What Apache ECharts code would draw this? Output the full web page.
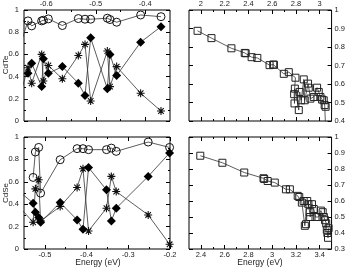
<!DOCTYPE html>
<html><head><meta charset="utf-8">
<script src="https://cdn.jsdelivr.net/npm/echarts@6/dist/echarts.min.js"></script>
<style>html,body{margin:0;padding:0;background:#fff}#c{width:348px;height:269px}</style>
</head><body><div id="c"></div>
<script>
// ---- Data: top-left (CdTe) ----
const tlEnergy  = [-0.655, -0.6369, -0.6295, -0.6093, -0.6059, -0.5958, -0.5675, -0.5352, -0.5217, -0.5103, -0.4766, -0.4712, -0.4578, -0.4093, -0.3682];
const tlCircle  = [0.65, 0.902, 0.857, 0.902, 0.908, 0.920, 0.860, 0.923, 0.917, 0.917, 0.926, 0.914, 0.890, 0.955, 0.940];
const tlDiamond = [null, 0.43, 0.52, 0.31, 0.56, 0.43, 0.49, 0.34, 0.23, 0.75, 0.29, 0.60, 0.41, 0.71, 0.85];
const tlStar    = [0.2, 0.48, 0.34, 0.60, 0.36, 0.50, 0.38, 0.59, 0.69, 0.18, 0.63, 0.31, 0.49, 0.25, 0.09];
// ---- Data: bottom-left (CdSe) ----
const blEnergy  = [-0.56, -0.5281, -0.5227, -0.5148, -0.5102, -0.4633, -0.4227, -0.4086, -0.3953, -0.3523, -0.3406, -0.3289, -0.2523, -0.201];
const blCircle  = [null, 0.639, 0.866, 0.907, 0.499, 0.797, 0.896, 0.896, 0.887, 0.887, 0.901, 0.872, 0.955, 0.907];
const blDiamond = [0.51, 0.409, 0.328, 0.281, 0.239, 0.415, 0.260, 0.176, 0.728, 0.528, 0.251, 0.364, 0.648, 0.857];
const blStar    = [0.37, 0.239, 0.537, 0.618, 0.251, 0.379, 0.549, 0.716, 0.161, 0.364, 0.648, 0.513, 0.304, 0.042];
// ---- Data: top-right (CdTe) ----
const trEnergy = [1.972, 2.089, 2.257, 2.369, 2.377, 2.427, 2.475, 2.578, 2.609, 2.615, 2.698, 2.740, 2.796, 2.785, 2.788, 2.791, 2.824, 2.832, 2.844, 2.866, 2.874, 2.902, 2.908, 2.922, 2.950, 2.978, 2.992, 3.006, 3.020, 3.034, 3.042, 3.050, 3.052];
const trSquare = [0.8875, 0.848, 0.793, 0.768, 0.766, 0.745, 0.741, 0.702, 0.705, 0.704, 0.655, 0.664, 0.634, 0.545, 0.495, 0.575, 0.459, 0.557, 0.512, 0.625, 0.512, 0.602, 0.580, 0.521, 0.530, 0.580, 0.557, 0.530, 0.516, 0.512, 0.486, 0.477, 0.33];
// ---- Data: bottom-right (CdSe) ----
const brEnergy = [2.395, 2.581, 2.765, 2.927, 2.933, 2.962, 3.022, 3.116, 3.149, 3.215, 3.228, 3.25, 3.265, 3.275, 3.285, 3.295, 3.305, 3.315, 3.32, 3.335, 3.35, 3.365, 3.39, 3.41, 3.425, 3.435, 3.445, 3.455, 3.46, 3.465, 3.47, 3.475];
const brSquare = [0.883, 0.839, 0.778, 0.742, 0.738, 0.725, 0.715, 0.673, 0.673, 0.632, 0.625, 0.59, 0.60, 0.445, 0.455, 0.60, 0.58, 0.53, 0.50, 0.58, 0.55, 0.50, 0.50, 0.54, 0.53, 0.50, 0.48, 0.46, 0.42, 0.40, 0.37, 0.43];
// ---- Tick labels ----
const tlXMajor = [-0.6, -0.5, -0.4];
const tlXMinor = [-0.55, -0.45];
const leftYMajor = [0, 0.2, 0.4, 0.6, 0.8, 1];
const leftYMinor = [0.1, 0.3, 0.5, 0.7, 0.9];
const blXMajor = [-0.5, -0.4, -0.3, -0.2];
const blXMinor = [-0.45, -0.35, -0.25];
const trXMajor = [2, 2.2, 2.4, 2.6, 2.8, 3];
const trXMinor = [2.1, 2.3, 2.5, 2.7, 2.9];
const trYMajor = [0.4, 0.5, 0.6, 0.7, 0.8, 0.9, 1];
const brXMajor = [2.4, 2.6, 2.8, 3, 3.2, 3.4];
const brXMinor = [2.5, 2.7, 2.9, 3.1, 3.3];
const brYMajor = [0.3, 0.4, 0.5, 0.6, 0.7, 0.8, 0.9, 1];
const rowLabels = ['CdTe', 'CdSe'];
const xTitle = 'Energy (eV)';

const FONT = 'Liberation Sans';
const grids = [
  {left: 24, top: 9, width: 146, height: 112},
  {left: 189, top: 9, width: 143, height: 112},
  {left: 24, top: 137, width: 146, height: 112},
  {left: 189, top: 137, width: 143, height: 112}
].map(g => Object.assign(g, {show: true, borderColor: '#000', borderWidth: 1, backgroundColor: 'transparent'}));

const xAxes = [], yAxes = [];
function addAxes(list, sides, g, min, max, major, minor, labelSide) {
  let first = -1;
  sides.forEach(side => {
    const idx = list.length;
    if (first < 0) first = idx;
    list.push({
      type: 'value', gridIndex: g, position: side, min: min, max: max, offset: 0,
      axisLine: {show: false, onZero: false}, splitLine: {show: false},
      axisTick: {show: true, inside: true, length: 4, customValues: major, lineStyle: {color: '#000', width: 1}},
      axisLabel: {show: side === labelSide, customValues: major, fontSize: 7.5, color: '#222', fontFamily: FONT,
                  margin: (side === 'left') ? 5 : (side === 'right' ? 3 : 2)}
    });
    if (minor && minor.length) {
      list.push({
        type: 'value', gridIndex: g, position: side, min: min, max: max, offset: 0,
        axisLine: {show: false, onZero: false}, splitLine: {show: false},
        axisTick: {show: true, inside: true, length: 2, customValues: minor, lineStyle: {color: '#000', width: 1}},
        axisLabel: {show: false}
      });
    }
  });
  return first;
}
const X = ['top', 'bottom'], Y = ['left', 'right'];
const ax = [
  [addAxes(xAxes, X, 0, -0.645, -0.35, tlXMajor, tlXMinor, 'top'), addAxes(yAxes, Y, 0, 0, 1, leftYMajor, leftYMinor, 'left')],
  [addAxes(xAxes, X, 1, 1.9, 3.1, trXMajor, trXMinor, 'top'), addAxes(yAxes, Y, 1, 0.4, 1, trYMajor, null, 'right')],
  [addAxes(xAxes, X, 2, -0.55, -0.2, blXMajor, blXMinor, 'bottom'), addAxes(yAxes, Y, 2, 0, 1, leftYMajor, leftYMinor, 'left')],
  [addAxes(xAxes, X, 3, 2.3, 3.5, brXMajor, brXMinor, 'bottom'), addAxes(yAxes, Y, 3, 0.3, 1, brYMajor, null, 'right')]
];

const zip = (xs, ys) => xs.map((x, i) => [x, ys[i]]);
const STAR = 'path://M10,0 L10,20 M0,10 L20,10 M3,3 L17,17 M3,17 L17,3';
const lineStyle = {color: '#333', width: 0.8};
function mk(panel, xs, ys, kind) {
  const s = {
    type: 'line', xAxisIndex: ax[panel][0], yAxisIndex: ax[panel][1],
    data: zip(xs, ys), lineStyle: lineStyle, clip: true, connectNulls: false,
    showAllSymbol: true, animation: false, silent: true
  };
  if (kind === 'circle') { s.symbol = 'circle'; s.symbolSize = 8; s.itemStyle = {color: 'rgba(0,0,0,0)', borderColor: '#111', borderWidth: 1}; }
  if (kind === 'diamond') { s.symbol = 'diamond'; s.symbolSize = 9; s.itemStyle = {color: '#000', borderColor: '#000', borderWidth: 0}; }
  if (kind === 'star') { s.symbol = STAR; s.symbolSize = 8; s.itemStyle = {color: 'rgba(0,0,0,0)', borderColor: '#111', borderWidth: 1.1}; }
  if (kind === 'square') { s.symbol = 'rect'; s.symbolSize = 7; s.itemStyle = {color: 'rgba(0,0,0,0)', borderColor: '#222', borderWidth: 1}; }
  return s;
}
const series = [
  mk(0, tlEnergy, tlCircle, 'circle'), mk(0, tlEnergy, tlStar, 'star'), mk(0, tlEnergy, tlDiamond, 'diamond'),
  mk(1, trEnergy, trSquare, 'square'),
  mk(2, blEnergy, blCircle, 'circle'), mk(2, blEnergy, blStar, 'star'), mk(2, blEnergy, blDiamond, 'diamond'),
  mk(3, brEnergy, brSquare, 'square')
];

const txt = (x, y, t, rot, size) => ({type: 'text', x: x, y: y, rotation: rot || 0, silent: true,
  style: {text: t, fill: '#222', font: size + 'px "' + FONT + '"', textAlign: 'center', textVerticalAlign: 'middle'}});

const chart = echarts.init(document.getElementById('c'), null, {renderer: 'canvas'});
chart.setOption({
  animation: false,
  grid: grids, xAxis: xAxes, yAxis: yAxes, series: series,
  graphic: [
    txt(6, 65, rowLabels[0], Math.PI / 2, 8), txt(6, 193, rowLabels[1], Math.PI / 2, 8),
    txt(98, 263, xTitle, 0, 8.5), txt(260, 263, xTitle, 0, 8.5)
  ]
});
</script></body></html>
